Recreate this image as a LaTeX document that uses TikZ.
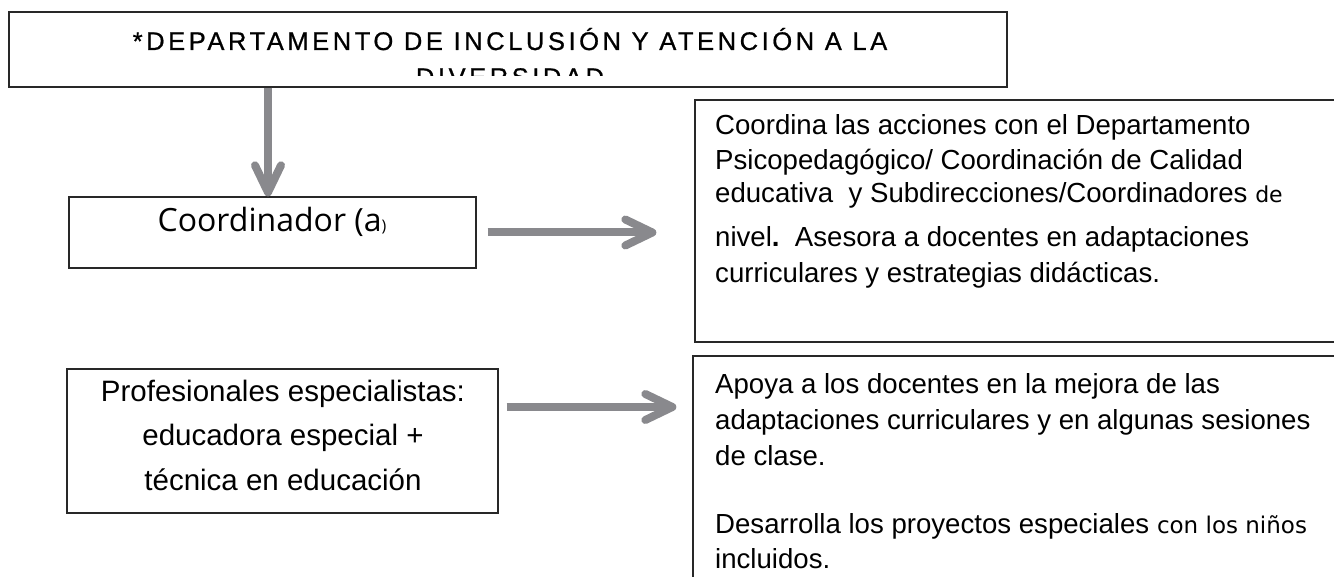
\documentclass[tikz,border=0pt]{standalone}
\usepackage{fontspec}
\setmainfont{Liberation Sans}
\newfontfamily\titlefont[LetterSpace=14,FakeBold=0.8]{Liberation Sans}
\newfontfamily\coordfont{Open Sans}
\newfontfamily\smallfont{DejaVu Sans}
\usetikzlibrary{arrows.meta,calc}
\definecolor{arrgray}{RGB}{137,137,141}
\definecolor{boxline}{RGB}{40,40,40}
\tikzset{
  box/.style={draw=boxline, line width=1.3pt, rectangle, inner sep=0pt},
  bodytxt/.style={anchor=base west, inner sep=0pt, font=\fontsize{27.6}{33}\selectfont},
  proftxt/.style={anchor=base, inner sep=0pt, font=\fontsize{29.5}{35}\selectfont},
  arr/.style={draw=arrgray, line width=8pt, -{Straight Barb[length=27pt,width=26pt,round]}}
}
\begin{document}
\begin{tikzpicture}[x=1pt,y=-1pt]
\useasboundingbox (0,0) rectangle (1334,577);
\fill[white] (0,0) rectangle (1334,577);
\clip (0,0) rectangle (1334,577);

% boxes
\node[box, minimum width=998pt, minimum height=75pt] (title) at (508,49.5) {};
\node[box, minimum width=407pt, minimum height=71pt] (coord) at (272.5,232.5) {};
\node[box, minimum width=431pt, minimum height=144pt] (prof) at (282.5,441) {};
\node[box, minimum width=665pt, minimum height=242pt] (box1) at (1027.5,221) {};
\node[box, minimum width=667pt, minimum height=260pt] (box2) at (1026.5,486) {};

% title text
\node[anchor=base, inner sep=0pt, font=\titlefont\fontsize{25.5}{30}\selectfont] (t1) at (510,50) {*DEPARTAMENTO DE INCLUSIÓN Y ATENCIÓN A LA};
\begin{scope}
\clip (0,0) rectangle (1334,76);
\node[anchor=base, inner sep=0pt, font=\titlefont\fontsize{25.5}{30}\selectfont] (t2) at (510,86) {DIVERSIDAD};
\end{scope}

% coordinador text
\node[anchor=base, inner sep=0pt, font=\coordfont\fontsize{32}{38}\selectfont] (ctext) at (272,232) {Coordinador (a{\fontsize{16}{19}\selectfont )}};

% profesionales text
\node[proftxt] (p1) at (283,402) {Profesionales especialistas:};
\node[proftxt] (p2) at (283,446) {educadora especial +};
\node[proftxt] (p3) at (283,490) {técnica en educación};

% box 1 text
\node[bodytxt] (a1) at (715,135) {Coordina las acciones con el Departamento};
\node[bodytxt] (a2) at (715,170) {Psicopedagógico/ Coordinación de Calidad};
\node[bodytxt] (a3) at (715,203) {educativa\ \ y Subdirecciones/Coordinadores {\smallfont\fontsize{22}{26}\selectfont de}};
\node[bodytxt] (a4) at (715,247) {nivel{\bfseries .}\ \ Asesora a docentes en adaptaciones};
\node[bodytxt] (a5) at (715,283) {curriculares y estrategias didácticas.};

% box 2 text
\node[bodytxt] (b1) at (715,393) {Apoya a los docentes en la mejora de las};
\node[bodytxt] (b2) at (715,429) {adaptaciones curriculares y en algunas sesiones};
\node[bodytxt] (b3) at (715,465) {de clase.};
\node[bodytxt] (b4) at (715,533) {Desarrolla los proyectos especiales {\smallfont\fontsize{23}{27}\selectfont con los niños}};
\node[bodytxt] (b5) at (715,568) {incluidos.};

% arrows
\coordinate (vs) at ([xshift=-4.5pt]coord.north |- title.south);
\draw[arr] (vs) -- (vs |- coord.north);
\coordinate (h1s) at ([xshift=11pt]coord.east);
\draw[arr] (h1s) -- ($(h1s -| box1.west)+(-38,0)$);
\coordinate (h2s) at ([xshift=8pt,yshift=34pt]prof.east);
\draw[arr] (h2s) -- ($(h2s -| box2.west)+(-16,0)$);
\end{tikzpicture}
\end{document}
